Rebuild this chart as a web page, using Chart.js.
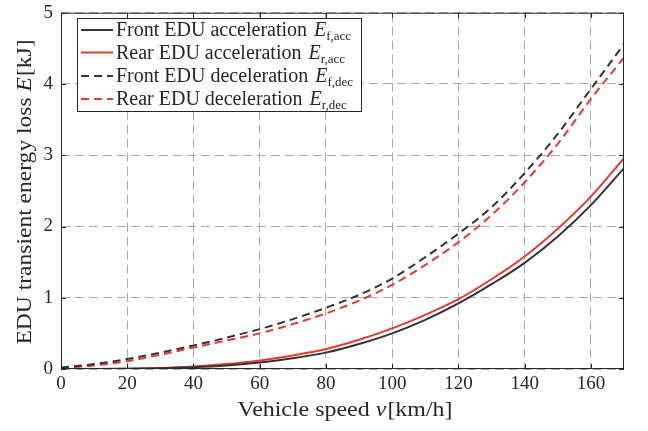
<!DOCTYPE html>
<html><head><meta charset="utf-8">
<script src="https://cdn.jsdelivr.net/npm/chart.js@4/dist/chart.umd.min.js"></script>
<style>html,body{margin:0;padding:0;background:#fff}#wrap{width:648px;height:431px;position:relative}</style>
</head><body><div id="wrap"><canvas id="c" width="648" height="431"></canvas></div>
<script>
const speeds = [0,10,20,30,40,50,60,70,80,90,100,110,120,130,140,150,160,170];
const frontAcc = [0,0,0.003,0.01,0.025,0.05,0.09,0.15,0.23,0.35,0.50,0.69,0.92,1.19,1.49,1.86,2.30,2.82];
const rearAcc  = [0,0,0.004,0.014,0.035,0.07,0.12,0.19,0.28,0.41,0.57,0.76,0.98,1.26,1.58,1.97,2.42,2.96];
const frontDec = [0.02,0.07,0.14,0.23,0.33,0.44,0.56,0.70,0.86,1.04,1.27,1.57,1.90,2.27,2.75,3.30,3.93,4.56];
const rearDec  = [0.01,0.05,0.11,0.20,0.30,0.40,0.50,0.63,0.78,0.96,1.18,1.46,1.78,2.16,2.62,3.16,3.79,4.37];
const legendNames = ["Front EDU acceleration","Rear EDU acceleration","Front EDU deceleration","Rear EDU deceleration"];
const legendSubs = ["f,acc","r,acc","f,dec","r,dec"];
const xTitle = ["Vehicle speed ","v","[km/h]"];
const yTitle = ["EDU transient energy loss ","E","[kJ]"];

const BLACK = '#333333', RED = '#e53a30';
const SERIF = '"Liberation Serif", "DejaVu Serif", serif';
function pts(vals){ return speeds.map((s,i)=>({x:s,y:vals[i]})); }
function ds(label, vals, color, dashed){
  return {label, data: pts(vals), borderColor: color, backgroundColor: color, borderWidth: 2,
    borderDash: dashed ? [8,5] : [], pointRadius: 0, cubicInterpolationMode: 'monotone', fill: false};
}
const datasets = [
  ds(legendNames[0], frontAcc, BLACK, false),
  ds(legendNames[1], rearAcc, RED, false),
  ds(legendNames[2], frontDec, BLACK, true),
  ds(legendNames[3], rearDec, RED, true)
];

function drawMixed(ctx, parts, size, cx, cy, target){
  const fonts = parts.map((p,i)=> (i===1 ? 'italic ' : '') + size + 'px ' + SERIF);
  let w = 0; const ws = [];
  parts.forEach((p,i)=>{ ctx.font = fonts[i]; const m = ctx.measureText(p).width; ws.push(m); w += m + (i===1?1:0); });
  const k = target / w;
  ctx.save(); ctx.translate(cx, cy); ctx.scale(k, 1);
  let x = -w/2;
  ctx.textBaseline = 'middle'; ctx.textAlign = 'left';
  parts.forEach((p,i)=>{ ctx.font = fonts[i]; ctx.fillText(p, x, 0); x += ws[i] + (i===1 ? 1 : 0); });
  ctx.restore();
}

const deco = {
  id: 'deco',
  afterDatasetsDraw(chart){
    const ctx = chart.ctx, a = chart.chartArea;
    const xs = chart.scales.x, ys = chart.scales.y;
    ctx.save();
    ctx.strokeStyle = '#262626'; ctx.lineWidth = 1; ctx.setLineDash([]);
    ctx.strokeRect(a.left+0.5, a.top+0.5, a.right-a.left-1, a.bottom-a.top-1);
    ctx.beginPath();
    xs.ticks.forEach(t=>{ const px = Math.round(xs.getPixelForValue(t.value))+0.5;
      ctx.moveTo(px, a.bottom); ctx.lineTo(px, a.bottom-5); ctx.moveTo(px, a.top); ctx.lineTo(px, a.top+5); });
    ys.ticks.forEach(t=>{ const py = Math.round(ys.getPixelForValue(t.value))+0.5;
      ctx.moveTo(a.left, py); ctx.lineTo(a.left+5, py); ctx.moveTo(a.right, py); ctx.lineTo(a.right-5, py); });
    ctx.stroke();
    ctx.fillStyle = '#262626';
    drawMixed(ctx, xTitle, 22, 345, 410, 215);
    ctx.save(); ctx.translate(25, 192); ctx.rotate(-Math.PI/2);
    drawMixed(ctx, yTitle, 22, 0, 0, 305); ctx.restore();
    const L = 77.5, T = 18.5, W = 284, H = 93;
    ctx.fillStyle = '#ffffff'; ctx.fillRect(L, T, W, H);
    ctx.strokeStyle = '#262626'; ctx.lineWidth = 1; ctx.strokeRect(L, T, W, H);
    const rows = [30, 52.5, 76, 99];
    chart.data.datasets.forEach((d,i)=>{
      const y = rows[i];
      ctx.strokeStyle = d.borderColor; ctx.lineWidth = 2; ctx.setLineDash(d.borderDash);
      ctx.beginPath(); ctx.moveTo(81, y); ctx.lineTo(113, y); ctx.stroke(); ctx.setLineDash([]);
      ctx.fillStyle = '#262626'; ctx.textBaseline = 'alphabetic'; ctx.textAlign = 'left';
      ctx.font = '20px ' + SERIF;
      const base = y + 6;
      ctx.fillText(d.label + ' ', 116, base);
      let x = 116 + ctx.measureText(d.label + ' ').width + 2;
      ctx.font = 'italic 20px ' + SERIF; ctx.fillText('E', x, base);
      x += ctx.measureText('E').width;
      ctx.font = '13px ' + SERIF; ctx.fillText(legendSubs[i], x, base + 4);
    });
    ctx.restore();
  }
};

new Chart(document.getElementById('c'), {
  type: 'line',
  data: { datasets },
  options: {
    responsive: false, animation: false, devicePixelRatio: 1,
    layout: { padding: { left: 0, right: 24, top: 12, bottom: 0 } },
    plugins: { legend: { display: false }, tooltip: { enabled: false } },
    scales: {
      x: { type: 'linear', min: 0, max: 170,
        ticks: { stepSize: 20, includeBounds: false, color: '#262626', font: { family: SERIF, size: 19 }, padding: 4, maxRotation: 0 },
        grid: { color: '#aaaaaa', lineWidth: 1, drawTicks: false },
        border: { display: false, dash: [9,5] },
        afterFit: s => { s.height = 62; }
      },
      y: { min: 0, max: 5,
        ticks: { stepSize: 1, color: '#262626', font: { family: SERIF, size: 19, lineHeight: 0.5 }, padding: 8 },
        grid: { color: '#aaaaaa', lineWidth: 1, drawTicks: false },
        border: { display: false, dash: [9,5] },
        afterFit: s => { s.width = 61; }
      }
    }
  },
  plugins: [deco]
});
</script></body></html>
